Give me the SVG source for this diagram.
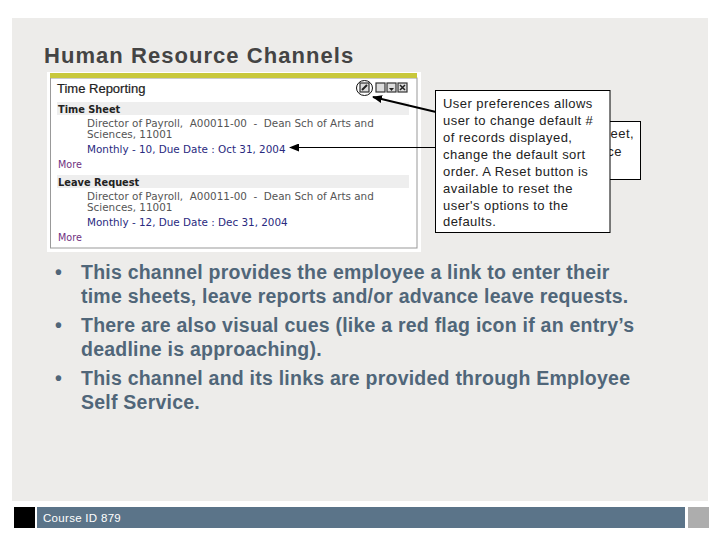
<svg xmlns="http://www.w3.org/2000/svg" width="720" height="540" viewBox="0 0 720 540">
<style>
text{font-family:"Liberation Sans",Arial,sans-serif}
.call{font-size:13px;fill:#222;letter-spacing:.45px}
.bul{font-size:19.5px;font-weight:bold;fill:#506679;letter-spacing:.23px}
.shot{font-family:"DejaVu Sans",sans-serif;font-size:10.4px;fill:#555;white-space:pre}
.head{font-family:"DejaVu Sans",sans-serif;font-size:9.8px;font-weight:bold;fill:#222}
.link{font-family:"DejaVu Sans",sans-serif;font-size:10.4px;fill:#2a2a80}
.more{font-family:"DejaVu Sans",sans-serif;font-size:9.6px;fill:#70307f}
.box{fill:#fff;stroke:#000;stroke-width:1}
.ico{fill:#ddd;stroke:#333;stroke-width:1.2}
</style>
<defs>
<marker id="ah" markerUnits="userSpaceOnUse" markerWidth="10" markerHeight="8" refX="9" refY="4" orient="auto"><path d="M0 0L10 4L0 8Z" fill="#000"/></marker>
</defs>
<rect width="720" height="540" fill="#fff"/>
<rect x="12" y="18" width="696" height="483" fill="#edecea"/>
<text x="44" y="63" font-size="22" font-weight="bold" fill="#444" letter-spacing="1.05">Human Resource Channels</text>

<g id="screenshot">
<rect x="47" y="72" width="374" height="180" fill="#fff"/>
<rect x="50.500" y="78" width="366.500" height="170" fill="#fff" stroke="#999"/>
<rect x="50" y="73" width="367" height="5" fill="#c8c83c"/>
<text x="57" y="93" font-family="DejaVu Sans" font-size="13" fill="#222" stroke="#222" stroke-width=".2">Time Reporting</text>
<rect x="57" y="102" width="352" height="13" fill="#eeeeee"/>
<text class="head" x="58" y="112.500">Time Sheet</text>
<text class="shot" x="87" y="127">Director of Payroll,  A00011-00  -  Dean Sch of Arts and</text>
<text class="shot" x="87" y="138">Sciences, 11001</text>
<text class="link" x="87" y="153">Monthly - 10, Due Date : Oct 31, 2004</text>
<text class="more" x="58" y="168">More</text>
<rect x="57" y="175" width="352" height="13" fill="#eeeeee"/>
<text class="head" x="58" y="185.500">Leave Request</text>
<text class="shot" x="87" y="200">Director of Payroll,  A00011-00  -  Dean Sch of Arts and</text>
<text class="shot" x="87" y="211">Sciences, 11001</text>
<text class="link" x="87" y="226">Monthly - 12, Due Date : Dec 31, 2004</text>
<text class="more" x="58" y="241">More</text>
<rect class="ico" x="360" y="83" width="9" height="9"/>
<path d="M362 90L367 85" stroke="#222" stroke-width="2"/>
<rect class="ico" x="376" y="83" width="9" height="9"/>
<rect class="ico" x="387" y="83" width="9" height="9"/>
<path d="M389 88h5l-2.500 3z" fill="#222"/>
<rect class="ico" x="398" y="83" width="9" height="9"/>
<path d="M400 85l5 5m0-5l-5 5" stroke="#222" stroke-width="1.500"/>
<ellipse cx="364.500" cy="88" rx="8" ry="7.500" fill="none" stroke="#111"/>
</g>

<g id="connectors" fill="none" stroke="#000">
<path d="M436 112L373 97" stroke-width="1.800" marker-end="url(#ah)"/>
<path d="M436 147.500H290" stroke-width="1" marker-end="url(#ah)"/>
</g>

<g id="note-back">
<rect class="box" x="560" y="121.500" width="80.500" height="58"/>
<text class="call" x="634" y="138" text-anchor="end">eet,</text>
<text class="call" x="622" y="156" text-anchor="end">ce</text>
</g>
<g id="note-front">
<rect class="box" x="435.500" y="90.500" width="174.500" height="142"/>
<text class="call" x="443" y="107.500">User preferences allows</text>
<text class="call" x="443" y="124.500">user to change default #</text>
<text class="call" x="443" y="141.500">of records displayed,</text>
<text class="call" x="443" y="158.500">change the default sort</text>
<text class="call" x="443" y="175.500">order. A Reset button is</text>
<text class="call" x="443" y="192.500">available to reset the</text>
<text class="call" x="443" y="209.500">user's options to the</text>
<text class="call" x="443" y="226">defaults.</text>
</g>

<g id="bullets">
<text class="bul" x="55" y="279">•</text>
<text class="bul" x="81" y="279">This channel provides the employee a link to enter their</text>
<text class="bul" x="81" y="303">time sheets, leave reports and/or advance leave requests.</text>
<text class="bul" x="55" y="332">•</text>
<text class="bul" x="81" y="332">There are also visual cues (like a red flag icon if an entry’s</text>
<text class="bul" x="81" y="356">deadline is approaching).</text>
<text class="bul" x="55" y="385">•</text>
<text class="bul" x="81" y="385">This channel and its links are provided through Employee</text>
<text class="bul" x="81" y="409">Self Service.</text>
</g>

<g id="footer">
<rect x="14" y="507" width="21" height="21" fill="#000"/>
<rect x="37" y="507" width="648" height="21" fill="#5b7489"/>
<rect x="688" y="507" width="21" height="21" fill="#adadad"/>
<text x="43" y="522" font-size="11.500" fill="#fff" letter-spacing=".3">Course ID 879</text>
</g>
</svg>
